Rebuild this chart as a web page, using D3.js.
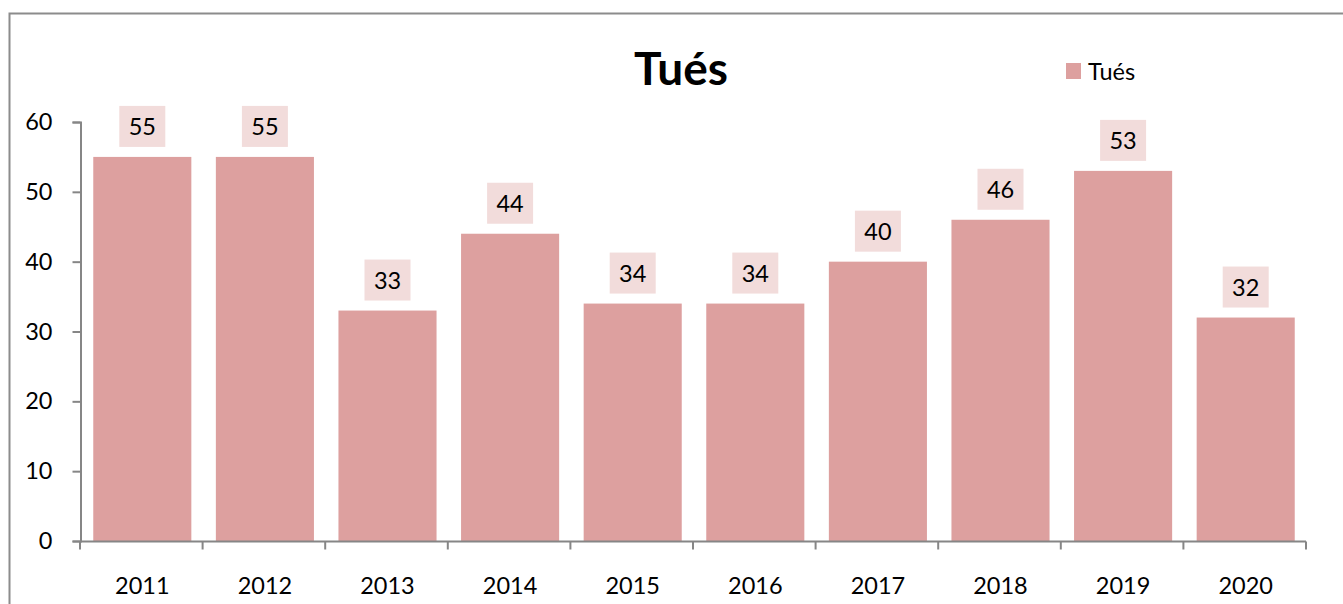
<!DOCTYPE html>
<html>
<head>
<meta charset="utf-8">
<script src="https://cdn.jsdelivr.net/npm/d3@7"></script>
<style>
  body { margin: 0; background: #fff; }
  text { font-family: Lato, "Open Sans", sans-serif; fill: #000; }
</style>
</head>
<body>
<div class="container"></div>
<script>
const years = ['2011', '2012', '2013', '2014', '2015', '2016', '2017', '2018', '2019', '2020'];
const tues = [55, 55, 33, 44, 34, 34, 40, 46, 53, 32];
const yTicks = [0, 10, 20, 30, 40, 50, 60];
const seriesName = 'Tués';

const BAR_COLOR = '#dda09f';
const LABEL_BG = '#f2dcdb';
const AXIS_COLOR = '#868686';
const FONT = '23.5px';

var display = function () {
  var svg = d3.select('.container').append('svg')
    .attr('width', 1343)
    .attr('height', 604);

  // chart frame
  svg.append('rect')
    .attr('x', 9.5).attr('y', 13.5)
    .attr('width', 1343).attr('height', 604)
    .attr('fill', 'none')
    .attr('stroke', '#8c8c8c')
    .attr('stroke-width', 2);

  var x = d3.scaleBand().domain(years).range([80, 1306]).paddingInner(0.2).paddingOuter(0.1);
  var y = d3.scaleLinear().domain([0, 60]).range([541, 122]);

  // bars
  svg.append('g').selectAll('rect')
    .data(tues)
    .join('rect')
    .attr('x', (d, i) => x(years[i]) + 1)
    .attr('y', d => y(d))
    .attr('width', x.bandwidth())
    .attr('height', d => y(0) - y(d))
    .attr('fill', BAR_COLOR);

  // y axis
  var yAxis = svg.append('g')
    .attr('transform', 'translate(80.5,0)')
    .call(d3.axisLeft(y).tickValues(yTicks).tickSize(8).tickPadding(20));
  yAxis.selectAll('line, path').attr('stroke', AXIS_COLOR).attr('stroke-width', 2);
  yAxis.selectAll('text').style('font-size', FONT).attr('fill', '#000');

  // x axis: ticks on category boundaries
  var xAxisG = svg.append('g').attr('transform', 'translate(0,541.5)');
  xAxisG.append('line')
    .attr('x1', 80).attr('x2', 1306)
    .attr('stroke', AXIS_COLOR).attr('stroke-width', 2);
  xAxisG.selectAll('.tk')
    .data(d3.range(years.length + 1))
    .join('line')
    .attr('class', 'tk')
    .attr('x1', i => 80 + i * x.step())
    .attr('x2', i => 80 + i * x.step())
    .attr('y1', 0).attr('y2', 8)
    .attr('stroke', AXIS_COLOR).attr('stroke-width', 2);
  xAxisG.selectAll('.lbl')
    .data(years)
    .join('text')
    .attr('class', 'lbl')
    .attr('x', d => x(d) + x.bandwidth() / 2 + 1)
    .attr('y', 52)
    .attr('text-anchor', 'middle')
    .style('font-size', FONT)
    .text(d => d);

  // data labels
  var lbl = svg.append('g').selectAll('g')
    .data(tues)
    .join('g')
    .attr('transform', (d, i) => 'translate(' + (x(years[i]) + x.bandwidth() / 2 + 1) + ',' + (y(d) - 10) + ')');
  lbl.append('rect')
    .attr('x', -23).attr('y', -41)
    .attr('width', 46).attr('height', 41)
    .attr('fill', LABEL_BG);
  lbl.append('text')
    .attr('y', -12)
    .attr('text-anchor', 'middle')
    .style('font-size', FONT)
    .text(d => d);

  // title
  svg.append('text')
    .attr('x', 681).attr('y', 85)
    .attr('text-anchor', 'middle')
    .style('font-size', '46px')
    .style('font-weight', 'bold')
    .text(seriesName);

  // legend
  svg.append('rect')
    .attr('x', 1066).attr('y', 63)
    .attr('width', 15).attr('height', 16)
    .attr('fill', BAR_COLOR);
  svg.append('text')
    .attr('x', 1088).attr('y', 80)
    .style('font-size', FONT)
    .text(seriesName);
}

window.onload = display;
</script>
</body>
</html>
